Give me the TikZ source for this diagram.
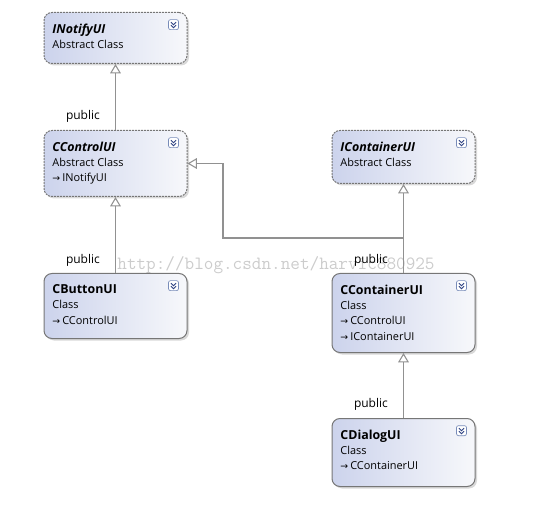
\documentclass[tikz,border=0pt]{standalone}
\usepackage{fontspec}
\setmainfont{Open Sans}
\newfontfamily\arrowfont{DejaVu Sans}
\usetikzlibrary{arrows.meta,shadows}
\definecolor{boxleft}{RGB}{204,211,236}
\definecolor{boxright}{RGB}{247,248,251}
\definecolor{boxline}{RGB}{118,118,118}
\definecolor{linkgray}{RGB}{145,145,145}
\definecolor{iconline}{RGB}{120,140,185}
\definecolor{iconmark}{RGB}{45,65,130}
\newcommand{\clsname}[1]{{\fontsize{9.3}{11.5}\selectfont\bfseries #1}}
\newcommand{\absname}[1]{{\fontsize{9.3}{11.5}\selectfont\bfseries\itshape #1}}
\newcommand{\impl}{{\arrowfont\fontsize{7}{7}\selectfont →}\kern1.5pt}
\begin{document}
\begin{tikzpicture}[x=0.75pt,y=-0.75pt,
  classbox/.style={draw=boxline, line width=0.75pt, rounded corners=6pt,
    left color=boxleft, right color=boxright,
    drop shadow={shadow xshift=1.5pt, shadow yshift=-1.5pt, opacity=0.3},
    anchor=north west, minimum width=107.25pt, inner sep=0pt},
  abstractbox/.style={classbox, dash pattern=on 1.5pt off 0.75pt},
  boxtext/.style={anchor=north west, align=left, inner sep=0pt,
    xshift=6.5pt, yshift=-8.5pt, font=\fontsize{8.2}{11.5}\selectfont},
  inherit/.style={draw=linkgray, line width=0.8pt,
    -{Triangle[open, length=7pt, width=8pt, fill=white]}},
  linklabel/.style={font=\fontsize{9}{11}\selectfont, left=8pt},
  expander/.pic={
    \draw[iconline, rounded corners=1.5pt, line width=0.5pt, fill=white] (-5,-5) rectangle (5,5);
    \draw[iconmark, line width=0.7pt] (-2.5,-2.5) -- (0,0) -- (2.5,-2.5) (-2.5,0.5) -- (0,3) -- (2.5,0.5);
  }]
\useasboundingbox (0,0) rectangle (533,510);

% watermark
\node[font=\ttfamily\fontsize{14}{14}\selectfont, text=gray!40] (mark) at (276,265) {http://blog.csdn.net/harvic880925};

% left column
\node[abstractbox, minimum height=38.25pt] (inotify) at (43.5,12) {};
\node[boxtext] (inotify-t) at (inotify.north west) {\absname{INotifyUI}\\Abstract Class};
\pic at ([xshift=-10.5pt,yshift=-9.5pt]inotify.north east) {expander};

\node[abstractbox, minimum height=49.5pt] (cctrl) at (43.5,130) {};
\node[boxtext] (cctrl-t) at (cctrl.north west) {\absname{CControlUI}\\Abstract Class\\\impl INotifyUI};
\pic at ([xshift=-10.5pt,yshift=-9.5pt]cctrl.north east) {expander};

\node[classbox, minimum height=48.75pt] (cbtn) at (43.5,273) {};
\node[boxtext] (cbtn-t) at (cbtn.north west) {\clsname{CButtonUI}\\Class\\\impl CControlUI};
\pic at ([xshift=-10.5pt,yshift=-9.5pt]cbtn.north east) {expander};

% right column
\node[abstractbox, minimum height=39.75pt] (icont) at (331.5,130) {};
\node[boxtext] (icont-t) at (icont.north west) {\absname{IContainerUI}\\Abstract Class};
\pic at ([xshift=-10.5pt,yshift=-9.5pt]icont.north east) {expander};

\node[classbox, minimum height=59.25pt] (ccont) at (331.5,273) {};
\node[boxtext] (ccont-t) at (ccont.north west) {\clsname{CContainerUI}\\Class\\\impl CControlUI\\\impl IContainerUI};
\pic at ([xshift=-10.5pt,yshift=-9.5pt]ccont.north east) {expander};

\node[classbox, minimum height=51pt] (cdlg) at (331.5,418) {};
\node[boxtext] (cdlg-t) at (cdlg.north west) {\clsname{CDialogUI}\\Class\\\impl CContainerUI};
\pic at ([xshift=-10.5pt,yshift=-9.5pt]cdlg.north east) {expander};

% inheritance
\coordinate (bend) at (223,238);
\draw[inherit] (cctrl.north) -- node[linklabel, pos=0.21] (pub1) {public} (inotify.south);
\draw[inherit] (cbtn.north) -- node[linklabel, pos=0.17] (pub2) {public} (cctrl.south);
\draw[inherit] (ccont.north) -- node[linklabel, pos=0.14] (pub3) {public} (icont.south);
\draw[inherit] (ccont.north |- bend) -- (bend) |- (cctrl.east);
\draw[inherit] (cdlg.north) -- node[linklabel, pos=0.21] (pub4) {public} (ccont.south);
\end{tikzpicture}
\end{document}
